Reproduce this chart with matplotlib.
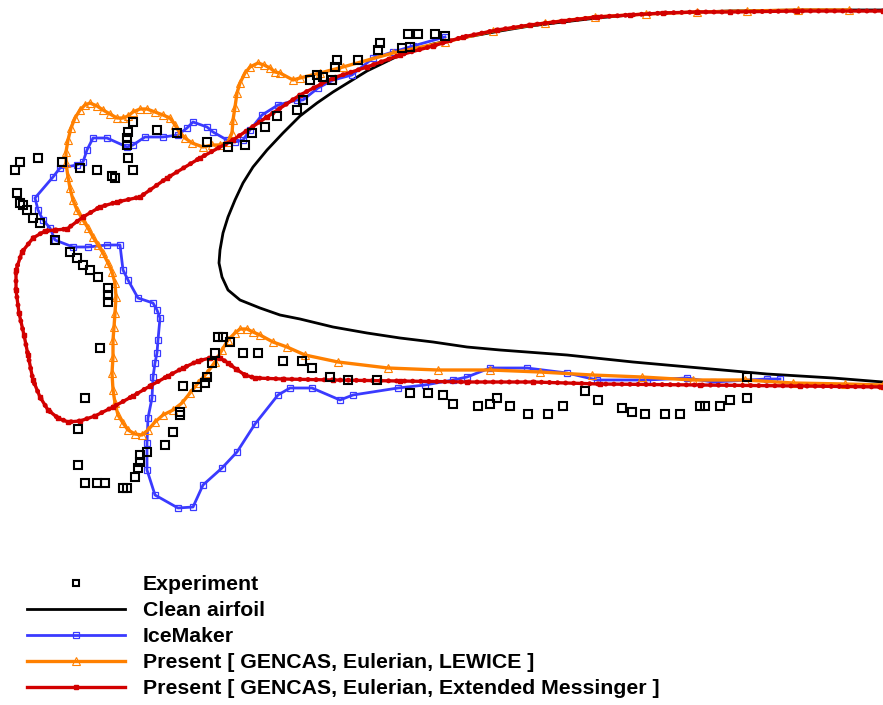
import matplotlib
matplotlib.use("Agg")
import matplotlib.pyplot as plt

# Ice shapes around the leading edge, in drawing units (x to the right, y downward)
clean_x = [883, 833, 767, 700, 633, 567, 500, 467, 433, 400, 367, 333, 300, 280, 260, 240,
           228, 222, 219, 220, 223, 228, 235, 243, 253, 267, 283, 300, 317, 333, 367, 400,
           433, 467, 500, 530, 563, 597, 630, 663, 697, 730, 800, 883]
clean_y = [382, 378, 374, 368, 362, 355, 350, 347, 342, 338, 333, 327, 319, 315, 308, 300,
           290, 277, 263, 250, 233, 217, 200, 183, 167, 150, 133, 116, 103, 92, 71, 55,
           44, 37, 31, 26, 22, 18, 15, 13, 12, 11, 10, 10]

exp_x = [207, 228, 245, 252, 265, 277, 297, 303, 310, 317, 323, 332, 335, 337, 358, 378,
         380, 402, 410, 408, 418, 435, 445,
         20, 15, 38, 62, 80, 97, 112, 115, 133, 128, 127, 127, 128, 133, 157, 177,
         17, 20, 23, 27, 33, 40, 55, 70, 77, 83, 90, 98, 108, 108, 108, 100, 85, 78,
         78, 85, 97, 105, 123, 127, 135, 138, 140, 140, 147, 165, 173, 180, 180, 183,
         197, 205, 207, 212, 215, 218, 223, 230, 243, 258, 283, 302, 312, 330, 348,
         377, 410, 428, 443, 453, 478, 490, 497, 510, 528, 548, 563, 585, 598, 622,
         632, 645, 665, 680, 700, 705, 720, 730, 747, 747]
exp_y = [142, 147, 145, 133, 127, 116, 110, 100, 80, 75, 77, 80, 67, 60, 60, 50,
         43, 48, 47, 34, 34, 34, 36,
         162, 170, 158, 162, 168, 170, 176, 178, 170, 158, 145, 138, 132, 122, 130, 133,
         193, 203, 205, 210, 218, 223, 240, 252, 258, 265, 270, 277, 288, 295, 302, 348,
         398, 429, 465, 483, 483, 483, 488, 488, 477, 468, 462, 455, 452, 445, 432, 412,
         415, 386, 387, 383, 377, 363, 353, 337, 337, 342, 353, 353, 361, 361, 368, 377,
         380, 380, 393, 393, 395, 404, 406, 404, 398, 406, 414, 414, 406, 391, 400, 408,
         412, 414, 414, 414, 406, 406, 406, 400, 398, 377]

icemaker_x = [780, 767, 713, 687, 647, 597, 567, 527, 490, 467, 453, 425, 398, 353, 340,
              312, 290, 278, 255, 237, 222, 203, 193, 178, 155, 147, 147, 148, 152, 153,
              155, 157, 158, 160, 157, 153, 138, 128, 123, 120, 107, 88, 73, 55, 50, 43,
              38, 35, 53, 60, 77, 83, 87, 93, 107, 127, 133, 145, 163, 178, 187, 193,
              207, 213, 227, 235, 243, 250, 262, 278, 297, 303, 318, 333, 352, 373, 393,
              413, 445]
icemaker_y = [379, 379, 382, 378, 380, 380, 373, 368, 368, 377, 380, 385, 388, 395, 400,
              388, 388, 395, 424, 452, 468, 485, 507, 508, 495, 470, 443, 418, 398, 377,
              363, 353, 340, 318, 310, 303, 298, 280, 270, 245, 245, 247, 247, 240, 228,
              220, 210, 198, 177, 168, 165, 162, 150, 138, 138, 147, 145, 137, 137, 135,
              128, 122, 127, 132, 140, 142, 140, 130, 115, 105, 100, 100, 88, 80, 75, 58,
              52, 46, 37]

lewice_x = [849, 798, 747, 697, 646, 595, 545, 493, 445, 393, 343, 320, 300, 293, 280, 275,
            270, 264, 258, 250, 245, 240, 237, 235, 233, 232, 228, 220, 212, 203, 192, 185,
            180, 175, 170, 163, 155, 147, 140, 133, 128, 123, 117, 110, 103, 97, 90, 85,
            80, 75, 71, 68, 66, 66, 68, 70, 73, 77, 83, 88, 93, 98, 103, 108, 112, 115,
            116, 115, 114, 113, 113, 112, 113, 115, 118, 123, 128, 135, 142, 148, 155, 163,
            173, 182, 190, 198, 207, 215, 222, 228, 235, 240, 247, 253, 260, 273, 287, 305,
            338, 388, 438, 490, 540, 592, 642, 693, 745, 793, 845, 883]
lewice_y = [10, 10, 11, 12, 14, 17, 23, 31, 42, 53, 67, 73, 78, 80, 73, 72,
            68, 65, 63, 67, 73, 83, 93, 107, 120, 133, 142, 145, 145, 147, 143, 138,
            133, 125, 118, 115, 112, 109, 109, 112, 116, 118, 118, 114, 110, 106, 103, 105,
            110, 118, 128, 140, 152, 163, 177, 188, 200, 210, 220, 228, 237, 245, 253, 263,
            272, 283, 297, 313, 327, 340, 357, 373, 390, 403, 415, 423, 430, 434, 435, 430,
            422, 415, 410, 403, 393, 383, 373, 362, 350, 340, 333, 329, 329, 332, 335, 342,
            347, 355, 362, 368, 370, 370, 372, 375, 377, 380, 380, 383, 384, 385]

messinger_x = [883, 797, 730, 697, 663, 630, 597, 563, 530, 497, 463, 433, 400, 367, 333,
               300, 267, 233, 200, 167, 140, 117, 100, 83, 67, 55, 45, 33, 22, 16, 16, 19,
               24, 28, 33, 40, 48, 58, 68, 80, 95, 113, 133, 150, 168, 183, 198, 210, 220,
               228, 236, 245, 255, 283, 333, 400, 467, 533, 600, 700, 800, 883]
messinger_y = [11, 11, 12, 12, 13, 15, 17, 21, 25, 30, 37, 46, 55, 67, 78,
               95, 117, 140, 158, 178, 197, 202, 207, 217, 229, 230, 231, 238, 252, 270, 290,
               313, 335, 355, 380, 397, 410, 418, 422, 421, 416, 407, 396, 386, 376, 368,
               361, 358, 358, 363, 369, 375, 378, 379, 380, 381, 382, 382, 384, 385, 386, 387]

labels = ["Experiment", "Clean airfoil", "IceMaker",
          "Present [ GENCAS, Eulerian, LEWICE ]",
          "Present [ GENCAS, Eulerian, Extended Messinger ]"]

plt.rcParams['font.family'] = ['Liberation Sans', 'DejaVu Sans']

fig = plt.figure(figsize=(8.83, 7.05), dpi=100)
ax = fig.add_axes([0, 0, 1, 1])
ax.set_xlim(0, 883)
ax.set_ylim(705, 0)
ax.axis('off')

BLUE = '#3a3aff'
ORANGE = '#ff8000'
RED = '#d20000'

h_clean, = ax.plot(clean_x, clean_y, color='black', lw=2.0, zorder=2)
h_ice, = ax.plot(icemaker_x, icemaker_y, color=BLUE, lw=2.0, marker='s', ms=5,
                 mfc='none', mec=BLUE, mew=0.9, zorder=3)
h_lew, = ax.plot(lewice_x, lewice_y, color=ORANGE, lw=2.4, marker='^', ms=5.5,
                 mfc='none', mec=ORANGE, mew=0.8, zorder=4)
h_mes, = ax.plot(messinger_x, messinger_y, color=RED, lw=2.4, marker='s', ms=2.5,
                 mfc=RED, mec=RED, zorder=5)
# closely spaced node dots along the Messinger shape
ax.plot(messinger_x, messinger_y, color=RED, lw=3.6, linestyle=(0, (0.01, 1.6)),
        dash_capstyle='round', zorder=5)
h_exp, = ax.plot(exp_x, exp_y, linestyle='none', marker='s', ms=5.5, mfc='none',
                 mec='black', mew=1.5, zorder=6)

leg = ax.legend([h_exp, h_clean, h_ice, h_lew, h_mes], labels,
                loc='upper left', bbox_to_anchor=(27 / 883, 1 - 575 / 705),
                frameon=False, borderpad=0, borderaxespad=0, numpoints=1,
                handlelength=4.6, handletextpad=0.85, labelspacing=0.33,
                prop={'weight': 'bold', 'size': 15.3})
leg.legend_handles[0].set_markersize(4.5)

fig.savefig('out.png', dpi=100)
